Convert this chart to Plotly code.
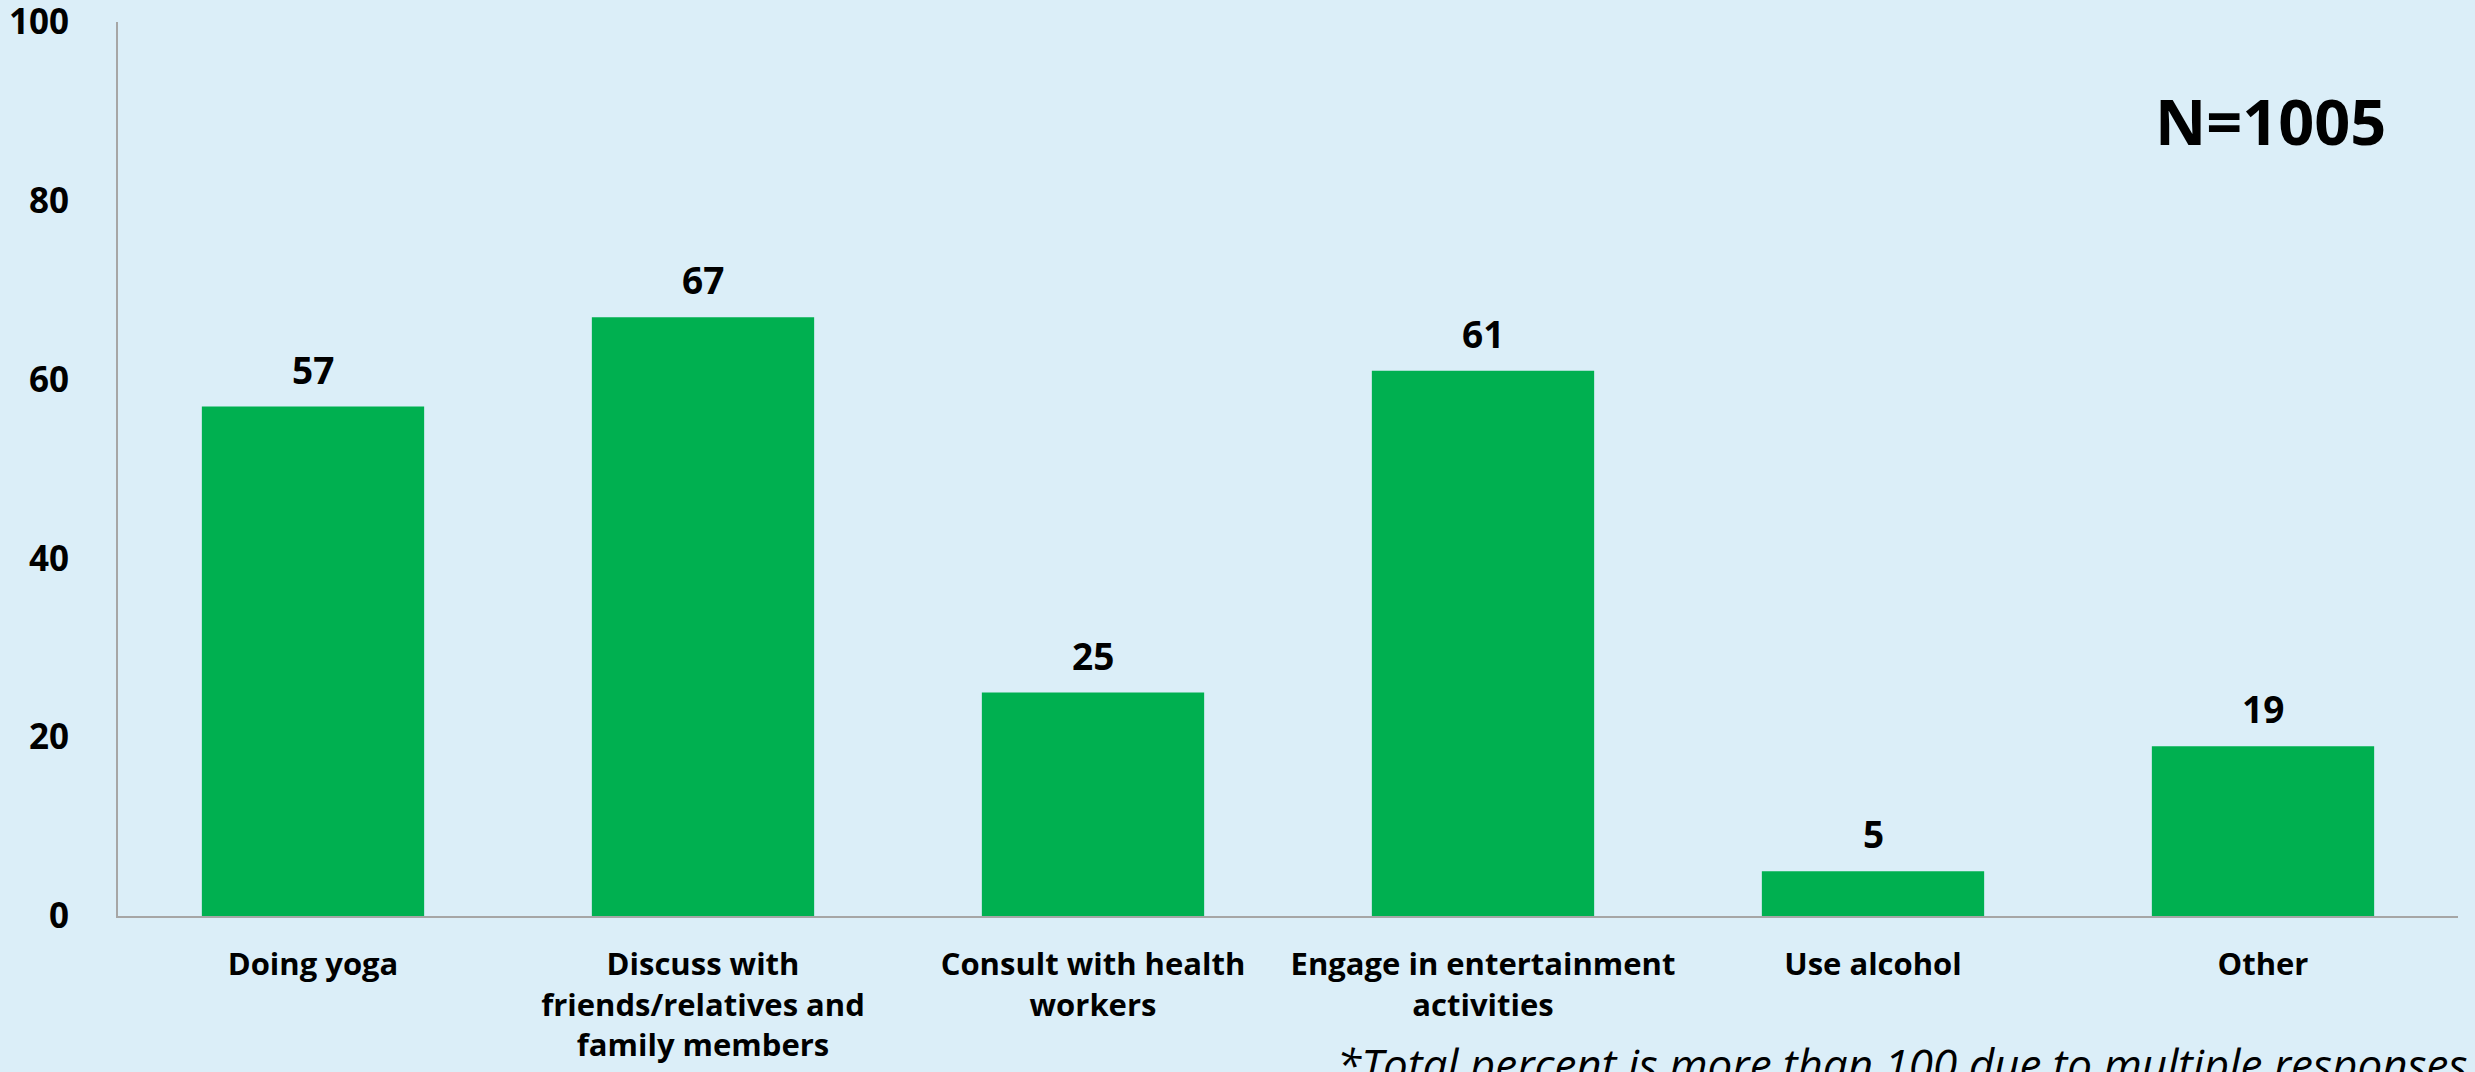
import plotly.graph_objects as go

# Coping responses (percent of respondents, multiple responses allowed)
categories = [
    "Doing yoga",
    "Discuss with<br>friends/relatives and<br>family members",
    "Consult with health<br>workers",
    "Engage in entertainment<br>activities",
    "Use alcohol",
    "Other",
]
percent = [57, 67, 25, 61, 5, 19]
y_ticks = [0, 20, 40, 60, 80, 100]
sample_note = "N=1005"
footnote = "*Total percent is more than 100 due to multiple responses"

BG = "#DBEEF8"
GREEN = "#00B050"
AXIS = "#A6A6A6"
FONT = "Open Sans"

fig = go.Figure()
fig.add_trace(go.Bar(
    x=categories,
    y=percent,
    marker=dict(color=GREEN, line=dict(width=0)),
    width=0.57,
    hoverinfo="x+y",
))

# value labels above each bar
for cat, val in zip(categories, percent):
    fig.add_annotation(
        x=cat, y=val, text=f"<b>{val}</b>", showarrow=False,
        xref="x", yref="y", yanchor="bottom", yshift=10,
        font=dict(family=FONT, size=37, color="black"),
    )

fig.add_annotation(
    x=0.92, y=0.89, xref="paper", yref="paper", text=f"<b>{sample_note}</b>",
    showarrow=False, xanchor="center", yanchor="middle",
    font=dict(family=FONT, size=63, color="black"),
)

fig.add_annotation(
    x=(1335 - 118) / 2340, y=(916 - 1032) / 894, xref="paper", yref="paper",
    text=f"<i>{footnote}</i>", showarrow=False, xanchor="left", yanchor="top",
    font=dict(family=FONT, size=44, color="black"),
)

fig.update_layout(
    width=2475, height=1072,
    margin=dict(l=118, r=17, t=22, b=156),
    paper_bgcolor=BG, plot_bgcolor=BG,
    showlegend=False,
    bargap=0.43,
    font=dict(family=FONT, color="black"),
)
fig.update_xaxes(
    showline=True, linecolor=AXIS, linewidth=2,
    showgrid=False, ticks="", zeroline=False,
    tickfont=dict(family=FONT, size=31, color="black", weight="bold"),
    ticklabelstandoff=20,
    automargin=False,
)
fig.update_yaxes(
    range=[0, 100.02], tickvals=y_ticks, ticktext=[f"<b>{t}</b>" for t in y_ticks],
    showline=True, linecolor=AXIS, linewidth=2,
    showgrid=False, ticks="", zeroline=False,
    tickfont=dict(family=FONT, size=35, color="black"),
    ticklabelstandoff=40,
    ticklabeloverflow="allow",
    automargin=False,
)

fig.write_html("out.html")
